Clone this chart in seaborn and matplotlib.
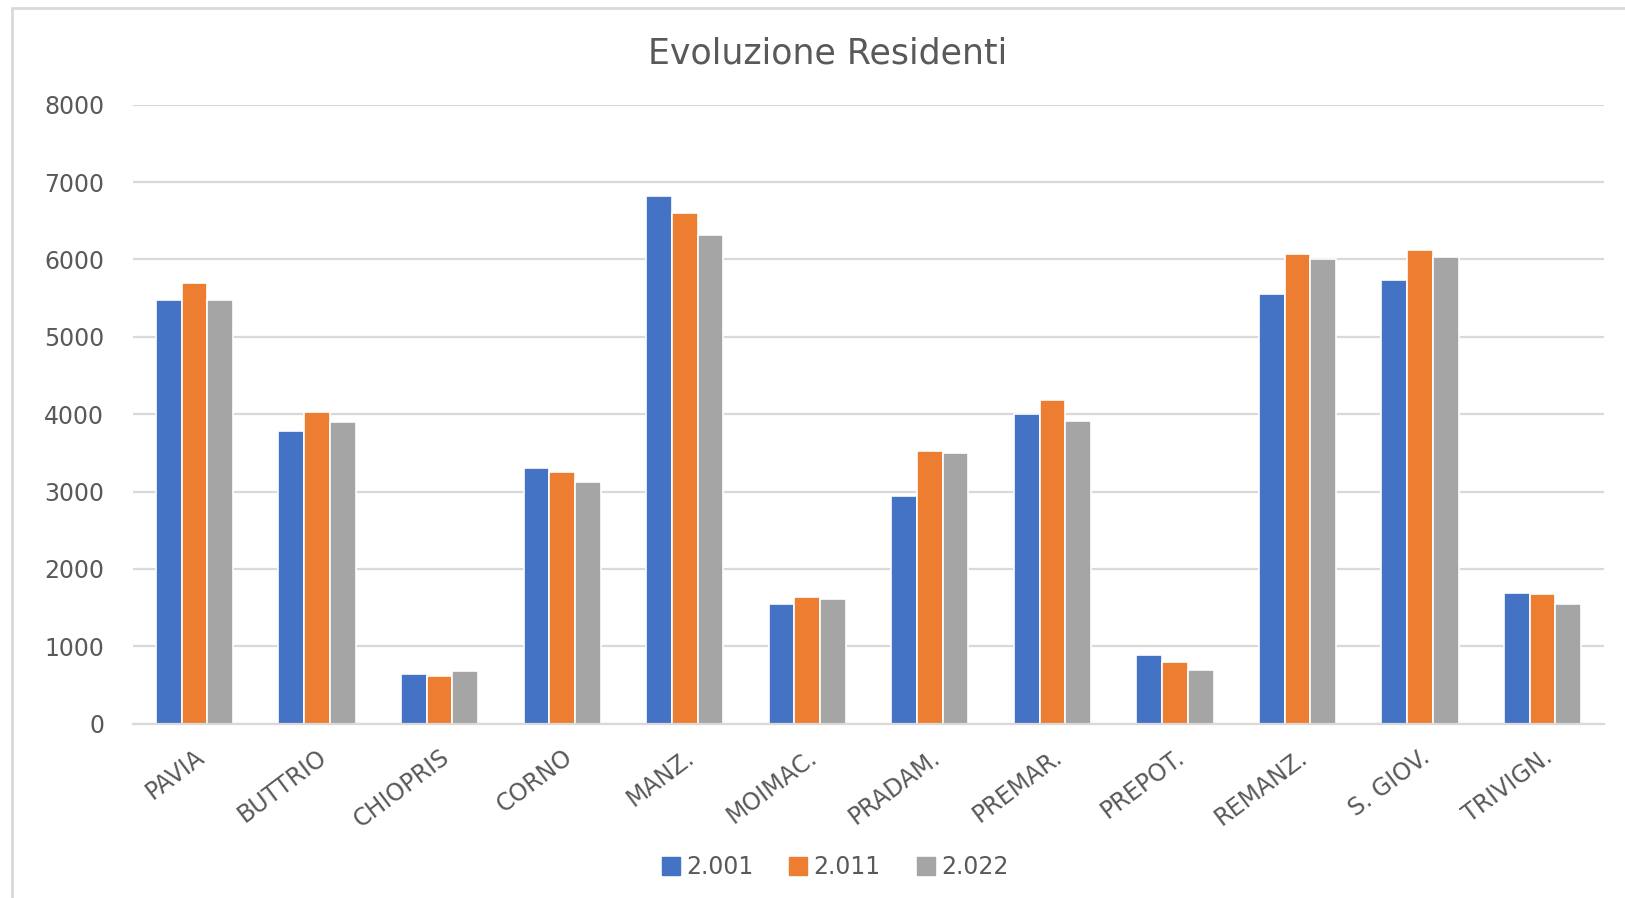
import matplotlib
matplotlib.use("Agg")
import matplotlib.pyplot as plt
import seaborn as sns
import pandas as pd
from matplotlib.lines import Line2D

comuni = ["PAVIA", "BUTTRIO", "CHIOPRIS", "CORNO", "MANZ.", "MOIMAC.", "PRADAM.",
          "PREMAR.", "PREPOT.", "REMANZ.", "S. GIOV.", "TRIVIGN."]
anni = ["2.001", "2.011", "2.022"]
res_2001 = [5480, 3780, 645, 3300, 6825, 1545, 2945, 4000, 890, 5550, 5730, 1690]
res_2011 = [5700, 4030, 612, 3255, 6595, 1640, 3530, 4180, 795, 6075, 6120, 1678]
res_2022 = [5480, 3895, 678, 3125, 6315, 1608, 3500, 3915, 695, 6000, 6025, 1545]
yticks = [0, 1000, 2000, 3000, 4000, 5000, 6000, 7000, 8000]
colori = ["#4472C4", "#ED7D31", "#A5A5A5"]
titolo = "Evoluzione Residenti"

df = pd.DataFrame({
    "Comune": comuni * 3,
    "Anno": [anni[0]] * 12 + [anni[1]] * 12 + [anni[2]] * 12,
    "Residenti": res_2001 + res_2011 + res_2022,
})

sns.set_theme(style="white")
plt.rcParams["font.family"] = ["DejaVu Sans"]
txt = "#595959"

fig = plt.figure(figsize=(16.25, 8.98), dpi=100)
ax = fig.add_axes([0.082, 0.194, 0.905, 0.6895])

sns.barplot(data=df, x="Comune", y="Residenti", hue="Anno", palette=colori,
            width=0.63, edgecolor="white", linewidth=1.2, saturation=1,
            legend=False, ax=ax)

ax.set_ylim(0, 8000)
ax.set_xlim(-0.5, len(comuni) - 0.5)
ax.set_yticks(yticks)
ax.set_yticklabels([str(v) for v in yticks], fontsize=17, color=txt)
ax.yaxis.grid(True, color="#D9D9D9", linewidth=1.6)
ax.set_axisbelow(True)
for s in ["top", "right", "left"]:
    ax.spines[s].set_visible(False)
ax.spines["bottom"].set_color("#D9D9D9")
ax.spines["bottom"].set_linewidth(1.6)
ax.tick_params(axis="both", length=0)
ax.tick_params(axis="y", pad=21)
ax.set_xlabel("")
ax.set_ylabel("")
ax.set_xticks(range(len(comuni)))
ax.set_xticklabels(comuni, rotation=37, ha="right", rotation_mode="anchor",
                   fontsize=17, color=txt)
ax.tick_params(axis="x", pad=15)

fig.text(0.509, 0.94, titolo, ha="center", va="center", fontsize=25, color=txt)

handles = [Line2D([0], [0], marker="s", linestyle="", markersize=13,
                  markerfacecolor=c, markeredgecolor=c) for c in colori]
fig.legend(handles, anni, loc="center", bbox_to_anchor=(0.513, 0.034), ncol=3,
           frameon=False, fontsize=17, labelcolor=txt, handletextpad=0.15,
           columnspacing=1.4, handlelength=1.0)

# outer chart frame (left and top edges visible in the crop)
fig.add_artist(Line2D([0.0075, 0.0075], [0.0, 0.991], transform=fig.transFigure,
                      color="#D9D9D9", linewidth=2))
fig.add_artist(Line2D([0.0075, 1.0], [0.991, 0.991], transform=fig.transFigure,
                      color="#D9D9D9", linewidth=2))

fig.savefig("out.png", dpi=100, facecolor="white")
